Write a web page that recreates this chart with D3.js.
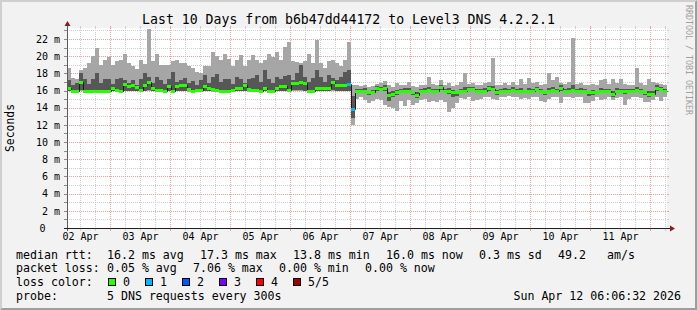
<!DOCTYPE html>
<html>
<head>
<meta charset="utf-8">
<script src="https://cdn.jsdelivr.net/npm/d3@7"></script>
<style>
body { margin: 0; background: #f2f2f2; }
svg { display: block; }
text { white-space: pre; font-family: "DejaVu Sans Mono", monospace; }
</style>
</head>
<body>
<div id="graph"></div>
<script>
// chart texts
const title = "Last 10 Days from b6b47dd44172 to Level3 DNS 4.2.2.1";
const yTitle = "Seconds";
const credit = "RRDTOOL / TOBI OETIKER";
const stamp = "Sun Apr 12 06:06:32 2026";

// ticks
const yTicks = [0, 2, 4, 6, 8, 10, 12, 14, 16, 18, 20, 22];
const dayTicks = ["2026-04-02", "2026-04-03", "2026-04-04", "2026-04-05", "2026-04-06",
                  "2026-04-07", "2026-04-08", "2026-04-09", "2026-04-10", "2026-04-11"];

// 150 slots of 96 minutes, values in ms (5 pings sorted: min, p2, median, p4, max)
const rttMin = [
  15.9,15.8,15.8,15.9,15.8,15.8,15.8,15.8,15.8,15.8, 15.8,15.9,15.8,15.8,15.9,15.9,15.9,15.9,15.8,15.9,
  15.9,15.9,15.8,15.8,15.8,15.9,15.8,15.9,15.9,15.9, 15.8,15.8,15.8,15.8,15.9,15.9,15.8,15.8,15.7,15.7,
  15.7,15.8,15.9,15.9,15.9,15.8,15.8,15.8,15.8,15.9, 15.8,15.8,15.9,15.9,15.9,15.8,15.9,15.9,15.9,15.9,
  15.8,15.8,15.9,15.9,15.9,15.9,15.9,15.9,15.9,15.9, 15.9,12.0,
  15.0,15.2,14.9,14.6,14.8,15.0,14.9,14.3,
  14.1,14.0,13.6,14.8,14.2,14.9,14.3,14.5,14.9,15.0, 14.7,14.8,14.7,14.9,14.7,13.5,14.0,14.6,15.1,15.0,
  15.2,14.8,14.9,15.0,15.3,15.2,15.0,14.9,15.3,15.2, 15.4,15.2,15.3,15.0,15.1,15.0,15.2,15.3,14.8,14.7,
  15.0,15.3,15.2,14.6,15.2,15.3,15.1,15.3,15.2,14.6, 14.5,14.8,15.2,14.9,15.0,15.2,14.9,15.1,15.2,14.3,
  15.0,15.2,15.3,15.1,14.7,14.7,14.9,15.2,14.8,15.3
];
const rttLow = [
  16.0,15.9,15.9,16.1,15.9,15.9,15.9,15.9,15.9,15.9, 15.9,16.0,15.9,15.9,16.0,16.0,16.0,16.0,15.9,16.0,
  16.1,16.0,15.9,15.9,15.9,16.0,15.9,16.0,16.0,16.0, 15.9,15.9,15.9,15.9,16.0,16.0,15.9,15.9,15.8,15.8,
  15.8,15.9,16.0,16.0,16.0,15.9,15.9,15.9,15.9,16.0, 15.9,15.9,16.0,16.0,16.0,15.9,16.1,16.1,16.1,16.0,
  15.9,15.9,16.0,16.0,16.0,16.0,16.1,16.0,16.0,16.0, 16.0,12.8,
  15.8,15.8,15.7,15.5,15.6,16.0,15.9,16.0,
  14.8,15.2,15.5,15.8,15.7,15.8,15.5,15.1,15.8,15.8, 15.9,15.8,15.8,16.1,15.7,15.6,15.3,15.4,15.8,15.8,
  16.0,15.9,15.8,15.8,15.8,16.0,15.9,15.5,15.8,15.8, 15.8,15.9,15.8,15.8,15.7,15.8,15.8,16.0,15.8,15.5,
  15.8,15.9,15.8,16.0,15.8,15.8,15.9,15.8,15.8,15.8, 15.4,15.5,15.6,15.8,15.8,15.8,15.2,15.8,15.8,15.6,
  15.8,15.8,15.9,15.8,15.5,15.3,15.4,16.0,15.9,15.8
];
const rttMedian = [
  16.3,16.0,16.0,17.0,16.0,16.0,16.0,16.0,16.0,16.0, 16.0,16.3,16.1,16.0,16.8,16.5,16.6,16.4,16.1,16.7,
  17.0,16.3,16.1,16.1,16.0,16.5,16.0,16.5,16.6,16.6, 16.2,16.0,16.1,16.1,16.5,16.3,16.2,16.1,15.9,15.9,
  15.9,16.1,16.3,16.3,16.6,16.2,16.1,16.1,16.0,16.3, 16.0,16.0,16.3,16.5,16.5,16.1,16.9,16.9,17.0,16.9,
  16.0,16.0,16.3,16.3,16.3,16.3,17.0,16.6,16.6,16.7, 16.8,13.8,
  16.0,16.0,16.0,15.8,15.8,16.3,16.2,16.3,
  15.5,15.6,15.8,16.0,16.0,16.0,15.8,15.5,16.0,16.0, 16.1,16.0,16.0,16.4,16.0,16.0,15.8,15.8,16.0,16.0,
  16.2,16.2,16.0,16.0,16.0,16.3,16.2,15.8,16.0,16.0, 16.0,16.1,16.0,16.0,15.9,16.0,16.0,16.2,16.0,15.8,
  16.0,16.1,16.0,16.3,16.0,16.0,16.1,16.0,16.0,16.0, 15.8,15.8,15.8,16.0,16.0,16.0,15.6,16.0,16.0,16.0,
  16.0,16.0,16.1,16.0,15.8,15.6,15.6,16.3,16.2,16.0
];
const rttHigh = [
  17.2,16.7,16.9,18.0,17.3,16.8,17.4,18.0,16.9,17.3, 17.4,16.8,17.3,17.5,17.2,16.9,17.2,16.7,17.4,18.0,
  17.6,16.9,17.6,17.2,16.8,17.3,18.2,17.0,17.2,17.5, 16.9,17.1,16.7,17.2,17.8,16.9,17.6,17.9,17.0,17.4,
  17.3,16.8,17.6,17.4,16.9,17.3,17.5,17.8,17.0,18.4, 17.4,16.9,17.6,17.3,17.7,17.8,17.2,18.0,19.0,17.6,
  17.0,17.5,18.4,17.6,17.0,17.8,17.5,17.2,17.6,18.2, 18.4,15.4,
  16.2,16.2,16.3,16.0,16.1,16.5,16.4,16.6,
  15.8,15.9,16.1,16.2,16.3,16.3,16.0,15.8,16.2,16.3, 16.4,16.2,16.2,16.6,16.2,16.3,16.1,16.0,16.2,16.4,
  16.4,16.4,16.2,16.2,16.3,16.5,16.5,16.1,16.2,16.3, 16.2,16.4,16.2,16.3,16.1,16.3,16.2,16.4,16.2,16.0,
  16.3,16.4,16.2,16.6,16.2,16.3,16.6,16.2,16.3,16.2, 16.0,16.1,16.0,16.3,16.2,16.2,15.9,16.3,16.2,16.2,
  16.2,16.2,16.4,16.2,16.0,15.9,15.9,16.6,16.4,16.2
];
const rttMax = [
  18.6,17.5,17.4,18.4,18.6,19.2,20.0,21.0,19.0,19.5, 19.9,19.0,19.4,19.6,20.3,19.2,18.8,18.5,19.5,19.1,
  23.2,19.4,20.3,19.0,19.0,19.0,19.4,19.5,19.2,19.2, 18.8,18.6,18.2,18.0,18.8,18.9,20.5,20.0,19.6,20.3,
  19.7,18.9,19.5,20.1,18.9,19.5,20.1,19.6,19.2,19.5, 20.3,19.9,20.5,19.5,21.1,21.6,19.4,19.3,19.2,19.4,
  20.3,19.2,21.9,19.2,18.6,19.4,19.6,19.2,18.8,19.6, 21.7,16.6,
  16.6,16.5,16.6,16.4,16.5,16.8,16.9,17.1,
  16.6,16.4,16.9,16.7,16.6,17.0,16.5,16.4,16.7,16.6, 17.6,16.8,16.6,17.2,16.6,16.9,16.5,16.6,17.0,18.0,
  16.8,16.9,16.6,16.7,16.9,17.0,19.8,16.6,16.7,16.9, 16.6,17.0,16.7,17.3,16.8,17.5,16.9,17.0,16.7,16.8,
  18.0,17.2,17.6,16.9,16.8,17.0,22.1,16.8,16.9,16.7, 16.6,16.8,16.7,17.2,17.4,16.8,17.4,16.9,17.4,16.8,
  16.7,16.6,18.6,16.9,16.7,17.4,17.0,16.9,16.8,16.6
];
// slots that lost pings (all others lost none)
const lossSlots = [70, 71];
const lossCounts = [1, 1];

const lossLabels = ["0", "1", "2", "3", "4", "5/5"];
const lossColors = ["#26ff00", "#00b8ff", "#0059ff", "#7e00ff", "#ff0000", "#a10000"];

const rttLegend = ["16.2 ms avg", "17.3 ms max", "13.8 ms min", "16.0 ms now", "0.3 ms sd", "49.2", "am/s"];
const lossLegend = ["0.05 % avg", "7.06 % max", "0.00 % min", "0.00 % now"];
const probeText = "5 DNS requests every 300s";

//绘图属性
const width = 697;
const height = 310;
const X0 = 67, Y0 = 228, plotW = 600, plotH = 200;
const startTime = Date.UTC(2026, 3, 2, 6, 48);
const endTime = startTime + 10 * 24 * 3600 * 1000;
const slotMs = 96 * 60 * 1000;

var svg = d3.select("#graph").append("svg")
    .attr("width", width).attr("height", height);

var x = d3.scaleUtc().domain([new Date(startTime), new Date(endTime)]).range([X0, X0 + plotW]);
var y = d3.scaleLinear().domain([0, 23.28]).range([Y0, Y0 - plotH]);

// background and shaded frame
svg.append("rect").attr("width", width).attr("height", height).attr("fill", "#f2f2f2");
svg.append("path").attr("d", "M0,0L697,0L695,2L2,2L2,308L0,310Z").attr("fill", "#cfcfcf");
svg.append("path").attr("d", "M697,0L697,310L0,310L2,308L695,308L695,2Z").attr("fill", "#9e9e9e");
svg.append("rect").attr("x", X0).attr("y", Y0 - plotH).attr("width", plotW).attr("height", plotH)
    .attr("fill", "#fff");

var grid = svg.append("g").attr("shape-rendering", "crispEdges");
var minorCol = "#cfcfcf", majorCol = "#f2a0a0";

// vertical grid
var majorDays = d3.utcDay.range(x.domain()[0], x.domain()[1]);
var minorHours = d3.utcHour.every(6).range(x.domain()[0], x.domain()[1])
    .filter(d => d.getUTCHours() !== 0);
function vLine(d, col) {
    var px = Math.round(x(d)) + 0.5;
    grid.append("line").attr("x1", px).attr("x2", px).attr("y1", Y0 - plotH).attr("y2", Y0)
        .attr("stroke", col).attr("stroke-dasharray", "1,1");
    grid.append("line").attr("x1", px).attr("x2", px).attr("y1", Y0 - plotH - 2).attr("y2", Y0 - plotH)
        .attr("stroke", col);
    grid.append("line").attr("x1", px).attr("x2", px).attr("y1", Y0).attr("y2", Y0 + 3)
        .attr("stroke", col);
}
minorHours.forEach(d => vLine(d, minorCol));
majorDays.forEach(d => vLine(d, majorCol));

// horizontal grid
function hLine(v, col, tickCol) {
    var py = Math.round(y(v)) + 0.5;
    grid.append("line").attr("x1", X0).attr("x2", X0 + plotW).attr("y1", py).attr("y2", py)
        .attr("stroke", col).attr("stroke-dasharray", "1,1");
    grid.append("line").attr("x1", X0 - 3).attr("x2", X0).attr("y1", py).attr("y2", py)
        .attr("stroke", tickCol);
    grid.append("line").attr("x1", X0 + plotW).attr("x2", X0 + plotW + 2).attr("y1", py).attr("y2", py)
        .attr("stroke", col);
}
d3.range(1, 24, 2).forEach(v => hLine(v, minorCol, "#8c8c8c"));
yTicks.forEach(v => hLine(v, majorCol, "#8c8c8c"));

// smoke
var slotTime = i => new Date(startTime + i * slotMs);
var smoke = svg.append("g").attr("shape-rendering", "crispEdges");
function band(lo, hi, col) {
    smoke.append("g").selectAll("rect")
        .data(rttMedian.map((m, i) => i))
        .enter()
        .append("rect")
        .attr("x", i => Math.round(x(slotTime(i))))
        .attr("width", i => Math.round(x(slotTime(i + 1))) - Math.round(x(slotTime(i))))
        .attr("y", i => y(hi[i]))
        .attr("height", i => Math.max(0, y(lo[i]) - y(hi[i])))
        .attr("fill", col);
}
band(rttMin, rttLow, "#a6a6a6");
band(rttLow, rttHigh, "#575757");
band(rttHigh, rttMax, "#a6a6a6");

// median: thin black step line, then loss coloured segments
var medPts = rttMedian.map((v, i) => [slotTime(i), v]);
medPts.push([slotTime(rttMedian.length), rttMedian[rttMedian.length - 1]]);
svg.append("path")
    .attr("d", d3.line().x(d => Math.round(x(d[0])) + 0.5).y(d => Math.round(y(d[1])) + 0.5)
        .curve(d3.curveStepAfter)(medPts))
    .attr("fill", "none").attr("stroke", "#1a1a1a").attr("stroke-width", 1);

var lossOf = i => { var k = lossSlots.indexOf(i); return k < 0 ? 0 : lossCounts[k]; };
svg.append("g").attr("shape-rendering", "crispEdges")
    .selectAll("rect")
    .data(rttMedian.map((m, i) => i))
    .enter()
    .append("rect")
    .attr("x", i => Math.round(x(slotTime(i))))
    .attr("width", i => Math.round(x(slotTime(i + 1))) - Math.round(x(slotTime(i))))
    .attr("y", i => Math.round(y(rttMedian[i])) - 1)
    .attr("height", 3)
    .attr("fill", i => lossColors[lossOf(i)]);

// axes lines and arrows
var arrowCol = "#8a1c1c";
svg.append("line").attr("x1", X0 + 0.5).attr("x2", X0 + 0.5).attr("y1", Y0 + 3).attr("y2", Y0 - plotH - 3)
    .attr("stroke", "#5a5a5a");
svg.append("line").attr("x1", X0 - 3).attr("x2", X0 + plotW + 5).attr("y1", Y0 + 0.5).attr("y2", Y0 + 0.5)
    .attr("stroke", "#202020");
svg.append("path").attr("d", `M${X0 - 2.5},${Y0 - plotH - 2}L${X0 + 0.5},${Y0 - plotH - 7}L${X0 + 3.5},${Y0 - plotH - 2}Z`)
    .attr("fill", arrowCol);
svg.append("path").attr("d", `M${X0 + plotW + 3},${Y0 - 2.5}L${X0 + plotW + 8},${Y0 + 0.5}L${X0 + plotW + 3},${Y0 + 3.5}Z`)
    .attr("fill", arrowCol);

// tick labels
var yAxis = svg.append("g").attr("transform", "translate(60,0)")
    .call(d3.axisLeft(y).tickValues(yTicks).tickSize(0).tickPadding(0)
        .tickFormat(d => d === 0 ? "0" : d + " m"));
yAxis.select(".domain").remove();
yAxis.attr("font-family", null).attr("font-size", null);
yAxis.selectAll("text").attr("font-size", "10px").attr("fill", "#000");
yAxis.selectAll(".tick").filter(d => d === 0).select("text").attr("x", -14.5);

var noon = dayTicks.map(s => new Date(Date.parse(s + "T12:00:00Z")));
var xAxis = svg.append("g").attr("transform", "translate(0," + Y0 + ")")
    .call(d3.axisBottom(x).tickValues(noon).tickSize(0).tickPadding(5)
        .tickFormat(d3.utcFormat("%d %b")));
xAxis.select(".domain").remove();
xAxis.attr("font-family", null).attr("font-size", null);
xAxis.selectAll("text").attr("font-size", "10px").attr("fill", "#000");

// titles
svg.append("text").attr("x", 348.5).attr("y", 24).attr("text-anchor", "middle")
    .attr("font-size", "13.2px").text(title);
svg.append("text").attr("transform", "translate(14,128) rotate(-90)").attr("text-anchor", "middle")
    .attr("font-size", "11.4px").text(yTitle);
svg.append("text").attr("transform", "translate(685.5,5) rotate(90)")
    .attr("font-size", "8.3px").attr("fill", "#a0a0a0").text(credit);

// legend
const fs = "11.6px";
function legendText(px, py, str, anchor) {
    svg.append("text").attr("x", px).attr("y", py).attr("font-size", fs)
        .attr("text-anchor", anchor || "start").text(str);
}
var rows = [258.5, 272.2, 286, 299.7];
legendText(16, rows[0], "median rtt:");
[107, 200, 293, 386, 479, 558, 607].forEach((px, k) => legendText(px, rows[0], rttLegend[k]));
legendText(16, rows[1], "packet loss:");
[107, 193, 279, 365].forEach((px, k) => legendText(px, rows[1], lossLegend[k]));
legendText(16, rows[2], "loss color:");
lossLabels.forEach((lab, k) => {
    var sx = 108 + k * 37;
    svg.append("rect").attr("x", sx + 0.5).attr("y", 278.5).attr("width", 7).attr("height", 7)
        .attr("fill", lossColors[k]).attr("stroke", "#000");
    legendText(sx + 15, rows[2], lab);
});
legendText(16, rows[3], "probe:");
legendText(107, rows[3], probeText);
legendText(681, rows[3], stamp, "end");
</script>
</body>
</html>
